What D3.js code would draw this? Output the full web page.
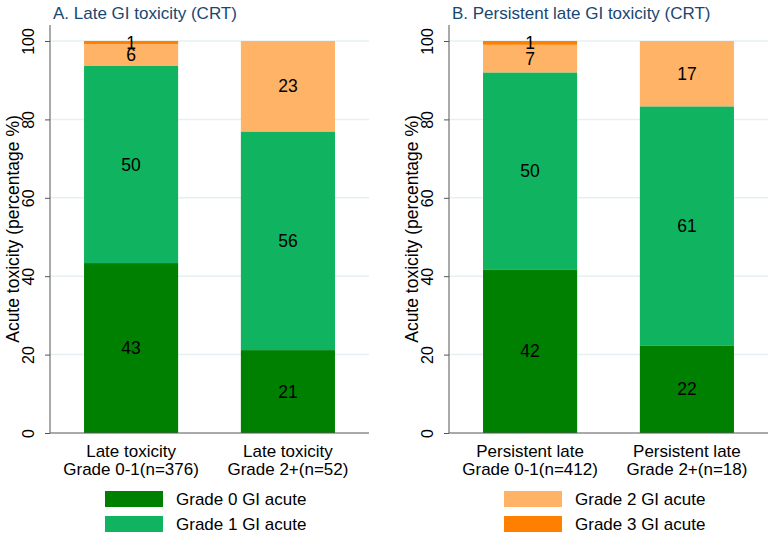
<!DOCTYPE html>
<html><head><meta charset="utf-8">
<script src="https://cdn.jsdelivr.net/npm/d3@7"></script>
<style>body{margin:0;background:#fff}svg{display:block;font-family:"Liberation Sans",Arial,sans-serif}</style>
</head><body><svg id="c" width="775" height="539"></svg>
<script>
// ---- data ----
const seriesNames = ["Grade 0 GI acute","Grade 1 GI acute","Grade 2 GI acute","Grade 3 GI acute"];
const seriesColors = ["#008000","#10b35f","#ffb366","#ff8000"];
const yTicks = [0,20,40,60,80,100];
const titleA = "A. Late GI toxicity (CRT)";
const categoriesA = [["Late toxicity","Grade 0-1(n=376)"],["Late toxicity","Grade 2+(n=52)"]];
const grade0A = [43.35, 21.15];
const grade1A = [50.27, 55.77];
const grade2A = [5.59, 23.08];
const grade3A = [0.80, 0];
const titleB = "B. Persistent late GI toxicity (CRT)";
const categoriesB = [["Persistent late","Grade 0-1(n=412)"],["Persistent late","Grade 2+(n=18)"]];
const grade0B = [41.75, 22.22];
const grade1B = [50.24, 61.11];
const grade2B = [7.04, 16.67];
const grade3B = [0.97, 0];
const yTitle = "Acute toxicity (percentage %)";

const panels = [
  {title:titleA, cats:categoriesA, series:[grade0A,grade1A,grade2A,grade3A], x0:50, x1:369, legend:[0,1]},
  {title:titleB, cats:categoriesB, series:[grade0B,grade1B,grade2B,grade3B], x0:449, x1:768, legend:[2,3]}
];

const svg = d3.select("#c");
const y = d3.scaleLinear().domain([0,100]).range([433,41]);

panels.forEach(p=>{
  const g = svg.append("g");
  const x = d3.scaleBand().domain(d3.range(p.cats.length)).range([p.x0,p.x1]).paddingInner(0.4).paddingOuter(0.217);
  // gridlines
  g.selectAll(".grid").data(yTicks.filter(t=>t>0)).join("line")
    .attr("x1",p.x0).attr("x2",p.x1).attr("y1",d=>y(d)).attr("y2",d=>y(d))
    .attr("stroke","#e6f0f2").attr("stroke-width",1.5);
  // stacked data
  const rows = p.cats.map((c,i)=>{const o={i}; p.series.forEach((s,k)=>o["s"+k]=s[i]); return o;});
  const stack = d3.stack().keys(p.series.map((s,k)=>"s"+k))(rows);
  stack.forEach((layer,k)=>{
    g.selectAll(null).data(layer).join("rect")
      .attr("x",d=>x(d.data.i)).attr("width",x.bandwidth())
      .attr("y",d=>y(d[1])).attr("height",d=>y(d[0])-y(d[1]))
      .attr("fill",seriesColors[k]);
  });
  stack.forEach((layer,k)=>{
    g.selectAll(null).data(layer.filter(d=>d[1]-d[0]>0)).join("text")
      .attr("x",d=>x(d.data.i)+x.bandwidth()/2).attr("y",d=>y((d[0]+d[1])/2))
      .attr("text-anchor","middle").attr("dominant-baseline","central")
      .attr("font-size",17.5).attr("fill","#000")
      .text(d=>Math.round(d[1]-d[0]));
  });
  // axes
  const ya = d3.axisLeft(y).tickValues(yTicks).tickSize(5).tickPadding(4);
  const yg = g.append("g").attr("transform",`translate(${p.x0},0)`).call(ya);
  yg.select(".domain").attr("d",`M0,25V433`).attr("stroke","#555");
  yg.selectAll(".tick line").attr("stroke","#555");
  yg.selectAll(".tick text").attr("font-size",16).attr("fill","#000")
    .attr("transform","rotate(-90,-20,0)")
    .attr("x",-20).attr("dy",0).attr("y",0).attr("text-anchor","middle").attr("dominant-baseline","middle");
  g.append("line").attr("x1",p.x0).attr("x2",p.x1).attr("y1",433).attr("y2",433).attr("stroke","#555").attr("stroke-width",1);
  // x labels
  p.cats.forEach((c,i)=>{
    const t = g.append("text").attr("text-anchor","middle").attr("font-size",17).attr("fill","#000");
    c.forEach((line,j)=>t.append("tspan").attr("x",x(i)+x.bandwidth()/2).attr("y",457+j*18).text(line));
  });
  // y title
  g.append("text").attr("transform",`translate(${p.x0-37},${(433+25)/2}) rotate(-90)`)
    .attr("text-anchor","middle").attr("dominant-baseline","central").attr("font-size",17.5).attr("fill","#000").text(yTitle);
  // title
  g.append("text").attr("x",p.x0+3).attr("y",19).attr("font-size",17).attr("fill","#1a476f").text(p.title);
  // legend
  p.legend.forEach((k,j)=>{
    const lx = p.x0+55, ly = 491+j*25;
    g.append("rect").attr("x",lx).attr("y",ly).attr("width",58).attr("height",16).attr("fill",seriesColors[k]);
    g.append("text").attr("x",lx+71).attr("y",ly+8).attr("dominant-baseline","central")
      .attr("font-size",17).attr("fill","#000").text(seriesNames[k]);
  });
});
</script></body></html>
